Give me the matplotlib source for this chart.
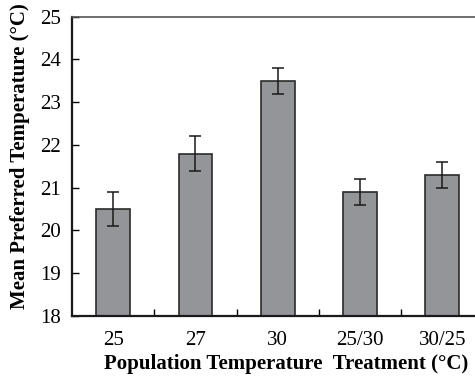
from matplotlib import pyplot as plt
import numpy as np

# data
treatments = ["25", "27", "30", "25/30", "30/25"]
mean_pref = [20.5, 21.8, 23.5, 20.9, 21.3]
err = [0.4, 0.4, 0.3, 0.3, 0.3]

plt.rcParams['font.family'] = ['Liberation Serif', 'DejaVu Serif']

fig = plt.figure(figsize=(4.75, 3.8), dpi=100)
# axes runs slightly past the right edge, like the reference crop
ax = fig.add_axes([72 / 475, 1 - 316 / 380, 411.5 / 475, 299.3 / 380])

x = np.arange(len(treatments))
ax.bar(x, np.array(mean_pref) - 18, bottom=18, width=0.41,
       color='#939598', edgecolor='#2b2b2b', linewidth=1.2, zorder=2)
ax.errorbar(x, mean_pref, yerr=err, fmt='none', ecolor='#1a1a1a',
            elinewidth=1.1, capsize=4, capthick=1.1, zorder=3)

ax.set_xlim(-0.5, 4.5)
ax.set_ylim(18, 25)
ax.set_yticks(range(18, 26))
ax.set_xticks(x)
ax.set_xticklabels(treatments)
ax.set_xticks(np.arange(0.5, 4.5, 1), minor=True)
ax.tick_params(axis='x', which='major', length=0, labelsize=15, pad=11)
ax.tick_params(axis='x', which='minor', direction='in', length=5, width=1)
ax.tick_params(axis='y', direction='in', length=5, width=1, labelsize=15, pad=8)

for side in ['left', 'bottom']:
    ax.spines[side].set_linewidth(1.6)
    ax.spines[side].set_color('#1a1a1a')
ax.spines['top'].set_linewidth(1.2)
ax.spines['top'].set_color('#555555')
ax.spines['right'].set_visible(False)

ax.set_xlabel("Population Temperature  Treatment (\u00b0C)", fontsize=15,
              fontweight='bold', labelpad=3)
ax.set_ylabel("Mean Preferred Temperature (\u00b0C)", fontsize=15,
              fontweight='bold', labelpad=7)
ax.xaxis.label.set_x(0.52)
ax.yaxis.label.set_y(0.535)

fig.savefig("out.png", dpi=100)
